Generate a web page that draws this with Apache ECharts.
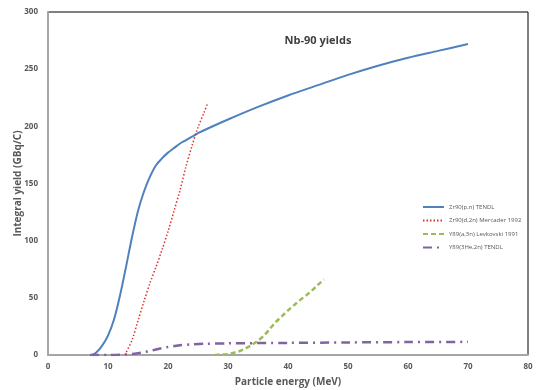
<!DOCTYPE html>
<html>
<head>
<meta charset="utf-8">
<script src="https://cdn.jsdelivr.net/npm/echarts@6/dist/echarts.min.js"></script>
<style>
  html, body { margin: 0; padding: 0; background: #fff; }
  #chart { width: 536px; height: 390px; }
</style>
</head>
<body>
<div id="chart"></div>
<script>
// Integral yields of Nb-90 versus particle energy, [MeV, GBq/C]
const seriesNames = [
  'Zr90(p,n) TENDL',
  'Zr90(d,2n) Mercader 1992',
  'Y89(a,3n) Levkovski 1991',
  'Y89(3He,2n) TENDL'
];
const zr90pn = [[7.3,0],[8,2],[9,8],[10,17],[11,31],[12,52],[13,77],[14,103],[15,126],[16,143],[17,156],[18,166],[19,172],[20,177],[21,181],[22,185],[23,188],[24,191],[25,194],[27,199],[30,206],[35,217],[40,227],[45,236],[50,245],[55,253],[60,260],[65,266],[70,272]];
const zr90d2n = [[12.8,0],[14,13],[15,30],[16,47],[17,63],[18,77],[19,92],[20,108],[21,126],[22,144],[23,165],[24,183],[25,199],[26,212],[26.6,220]];
const y89a3n = [[27.8,0],[29,0.3],[30,0.8],[31,2],[32,3.5],[33,6],[34,9],[35,12.5],[36,17],[37,23],[38,29],[39,34],[40,39],[41,43.5],[42,48],[43,52],[44,56.5],[45,61.5],[46,66]];
const y89he2n = [[7,0],[10,0],[12,0.2],[14,0.8],[15,1.5],[16,2.5],[17,3.5],[18,4.8],[19,6],[20,7],[21,7.8],[22,8.5],[24,9.3],[26,9.8],[30,10.2],[40,10.6],[50,11],[60,11.3],[70,11.5]];

const xMin = 0, xMax = 80, xStep = 10;
const yMin = 0, yMax = 300, yStep = 50;

const font = '"Open Sans", "Liberation Sans", sans-serif';
const grey = '#595959';

function lineSeries(name, data, color, width, type) {
  return {
    name, type: 'line', data,
    smooth: 0.3,
    symbol: 'none', showSymbol: false,
    lineStyle: { color, width, type },
    itemStyle: { color }
  };
}

const chart = echarts.init(document.getElementById('chart'));
chart.setOption({
  animation: false,
  backgroundColor: '#fff',
  title: {
    text: 'Nb-90 yields',
    left: 313, top: 30, textAlign: 'center',
    textStyle: { fontFamily: font, fontSize: 11, fontWeight: 'bold', color: '#404040' }
  },
  grid: {
    left: 48, right: 8, top: 12, bottom: 35,
    outerBoundsMode: 'none',
    show: true, borderColor: '#000', borderWidth: 1
  },
  legend: {
    orient: 'vertical', left: 417, top: 199,
    itemWidth: 21, itemHeight: 6, itemGap: 7.5,
    itemStyle: { color: 'transparent', borderWidth: 0 },
    textStyle: { fontFamily: font, fontSize: 6, color: grey },
    data: seriesNames
  },
  xAxis: {
    type: 'value', min: xMin, max: xMax, interval: xStep,
    name: 'Particle energy (MeV)', nameLocation: 'middle', nameGap: 22,
    nameMoveOverlap: false,
    nameTextStyle: { fontFamily: font, fontSize: 10, fontWeight: 'bold', color: grey },
    axisLine: { show: true, lineStyle: { color: '#a6a6a6', width: 2 } },
    axisTick: { show: false },
    splitLine: { show: false },
    axisLabel: { fontFamily: font, fontSize: 8, fontWeight: 'bold', color: grey, margin: 8 }
  },
  yAxis: {
    type: 'value', min: yMin, max: yMax, interval: yStep,
    name: 'Integral yield (GBq/C)', nameLocation: 'middle', nameGap: 25,
    nameMoveOverlap: false,
    nameTextStyle: { fontFamily: font, fontSize: 10, fontWeight: 'bold', color: grey },
    axisLine: { show: true, lineStyle: { color: '#a6a6a6', width: 2 } },
    axisTick: { show: false },
    splitLine: { show: false },
    axisLabel: { fontFamily: font, fontSize: 8, fontWeight: 'bold', color: grey, margin: 10 }
  },
  series: [
    lineSeries(seriesNames[0], zr90pn, '#4f81bd', 2, 'solid'),
    lineSeries(seriesNames[1], zr90d2n, '#e0302a', 1.5, [1.5, 2]),
    lineSeries(seriesNames[2], y89a3n, '#9bbb59', 2.5, [5, 3]),
    lineSeries(seriesNames[3], y89he2n, '#8064a2', 2.5, [9, 5, 2, 5])
  ]
});
</script>
</body>
</html>
